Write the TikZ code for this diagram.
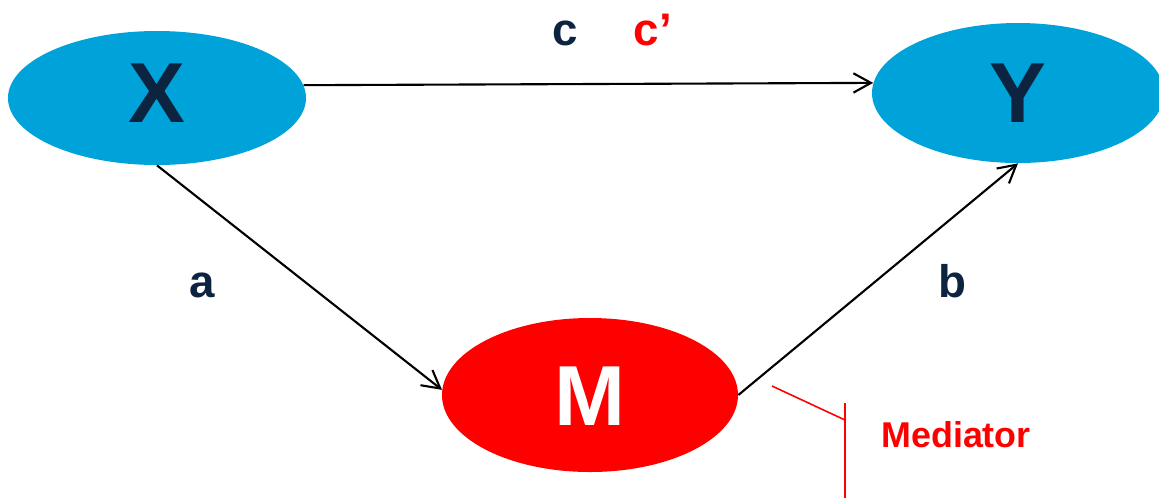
\documentclass[tikz,border=0pt]{standalone}
\usepackage{fontspec}
\setmainfont{Liberation Sans}
\usetikzlibrary{shapes.geometric,arrows.meta}
\definecolor{navy}{HTML}{0D2441}
\definecolor{skyb}{HTML}{00A2DA}
\definecolor{mred}{HTML}{FF0000}
\begin{document}
\begin{tikzpicture}[x=0.02cm,y=-0.02cm,
  ell/.style={ellipse,inner sep=0pt,draw=none},
  bigtxt/.style={font=\bfseries\fontsize{48.5}{54}\selectfont},
  lbl/.style={font=\bfseries\fontsize{26}{30}\selectfont,text=navy,anchor=base,inner sep=0pt},
  conn/.style={line width=1.2pt,-{Straight Barb[length=10pt,width=11pt,line width=1.2pt]}},
  redline/.style={mred,line width=0.9pt}]
\useasboundingbox (0,0) rectangle (1159,498);
\node[ell,fill=skyb,minimum width=298*0.02cm,minimum height=134*0.02cm] (X) at (157,98) {};
\node[ell,fill=skyb,minimum width=292*0.02cm,minimum height=140*0.02cm] (Y) at (1018,93) {};
\node[ell,fill=mred,minimum width=296*0.02cm,minimum height=154*0.02cm] (M) at (590,395) {};
\node[bigtxt,text=navy,anchor=base,inner sep=0pt] (Xt) at (157,122) {X};
\node[bigtxt,text=navy,anchor=base,inner sep=0pt] (Yt) at (1018,122) {Y};
\node[bigtxt,text=white,anchor=base,inner sep=0pt] (Mt) at (590,425) {M};
\draw[conn] (X.5) -- (Y.176.8);
\draw[conn] (X.south) -- (M.178);
\draw[conn] (M.east) -- (Y.south);
\node[lbl] (c) at (565,45) {c};
\node[lbl,text=mred] (cp) at (653,45) {c’};
\node[lbl] (a) at (202,297) {a};
\node[lbl] (b) at (952,297) {b};
\coordinate (r1) at (772,386);
\coordinate (r2) at (845,420);
\coordinate (r3) at (845,403);
\coordinate (r4) at (845,498);
\draw[redline] (r1) -- (r2);
\draw[redline] (r3) -- (r4);
\node[font=\bfseries\fontsize{20.4}{24}\selectfont,text=mred,anchor=base west,inner sep=0pt] (med) at (881,447) {Mediator};
\end{tikzpicture}
\end{document}
